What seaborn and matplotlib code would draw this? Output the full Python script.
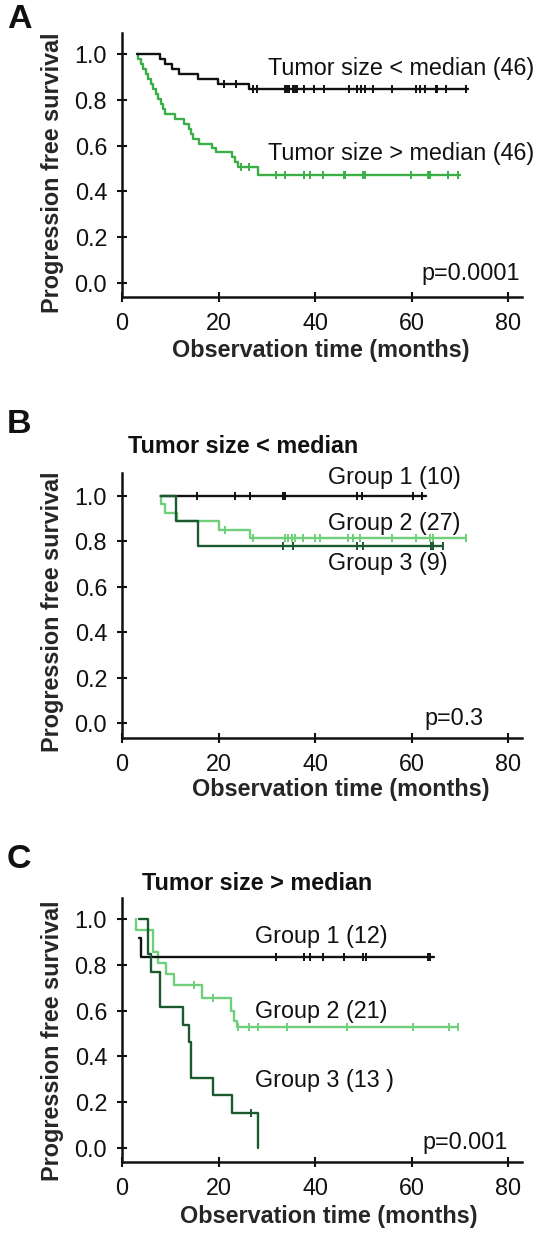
import numpy as np
import pandas as pd
import matplotlib
matplotlib.use("Agg")
import matplotlib.pyplot as plt
import seaborn as sns

# ---------------- data ----------------
# Panel A : tumor size < median (46) / > median (46)
a_small_t = [3.2, 7.9, 9.0, 10.4, 11.8, 15.8, 19.9, 26.3]
a_small_s = [1.0, 0.978, 0.957, 0.935, 0.913, 0.891, 0.870, 0.848]
a_small_cens = [21.1, 23.7, 27.2, 28.0, 33.7, 34.1, 34.5, 35.5, 35.8, 36.2, 37.6,
                39.8, 41.9, 47.0, 48.7, 49.5, 50.2, 52.0, 55.9, 60.9, 61.6, 62.7,
                64.9, 65.2, 67.0, 71.3]
a_small_end = 71.7

a_large_t = [3.2, 3.4, 3.9, 4.4, 4.9, 5.4, 6.0, 6.5, 7.0, 7.5, 8.0, 8.5, 9.0, 11.0,
             12.8, 13.8, 14.2, 14.7, 16.0, 18.7, 19.5, 22.7, 23.3, 24.0, 28.2]
a_large_s = [1.0, 0.978, 0.957, 0.935, 0.913, 0.891, 0.870, 0.848, 0.826, 0.804,
             0.783, 0.761, 0.739, 0.717, 0.696, 0.674, 0.652, 0.630, 0.609, 0.590,
             0.572, 0.550, 0.528, 0.508, 0.472]
a_large_cens = [24.7, 26.2, 31.9, 33.7, 37.6, 38.9, 41.6, 45.9, 46.2, 49.8, 50.2,
                59.9, 63.4, 63.8, 67.4, 69.5]
a_large_end = 69.9

# Panel B : tumor size < median
b_g1_t = [8.0]
b_g1_s = [1.0]
b_g1_cens = [15.5, 23.4, 26.5, 33.4, 33.7, 48.6, 49.6, 60.3, 62.0]
b_g1_end = 63.0

b_g2_t = [7.9, 8.0, 8.8, 11.3, 20.0, 26.5]
b_g2_s = [1.0, 0.963, 0.926, 0.889, 0.852, 0.815]
b_g2_cens = [21.3, 27.2, 33.7, 34.4, 35.1, 35.8, 37.5, 39.9, 41.0, 46.8, 47.9,
             49.2, 55.8, 60.9, 63.7, 64.4, 71.3]
b_g2_end = 71.3

b_g3_t = [8.0, 11.1, 15.8]
b_g3_s = [1.0, 0.889, 0.778]
b_g3_cens = [33.4, 35.5, 48.6, 49.9, 64.0, 64.4, 66.5]
b_g3_end = 66.5

# Panel C : tumor size > median
c_g1_t = [3.6, 4.0]
c_g1_s = [0.917, 0.833]
c_g1_cens = [31.9, 37.6, 38.9, 41.6, 45.9, 49.8, 50.5, 63.4, 63.8]
c_g1_end = 64.5

c_g2_t = [2.9, 3.0, 6.5, 7.4, 9.1, 10.7, 16.6, 22.5, 23.1, 23.8]
c_g2_s = [1.0, 0.952, 0.857, 0.810, 0.762, 0.714, 0.655, 0.600, 0.555, 0.527]
c_g2_cens = [15.0, 18.8, 24.0, 26.2, 28.2, 34.1, 46.6, 60.2, 67.7, 69.5]
c_g2_end = 69.5

c_g3_t = [3.6, 5.4, 6.1, 7.8, 12.6, 13.8, 14.3, 18.9, 22.7, 28.2]
c_g3_s = [1.0, 0.846, 0.769, 0.615, 0.538, 0.462, 0.308, 0.231, 0.154, 0.0]
c_g3_cens = [26.6]
c_g3_end = 28.2

x_ticks = [0, 20, 40, 60, 80]
y_ticks = [0.0, 0.2, 0.4, 0.6, 0.8, 1.0]

# ---------------- style ----------------
sns.set_style("ticks")
plt.rcParams["font.family"] = ["Liberation Sans", "DejaVu Sans"]

BLACK = "#111111"
GREEN_A = "#3aae47"
LIGHT = "#6fcf7a"
DARK = "#1b5a31"

W, H = 539, 1234
fig = plt.figure(figsize=(W / 100, H / 100), dpi=100)
AX_L, AX_R = 122, 522


def make_axes(top, bottom):
    return fig.add_axes([AX_L / W, 1 - bottom / H, (AX_R - AX_L) / W, (bottom - top) / H])


def km(ax, t, s, cens, end, color, z):
    tt = list(t) + [end]
    ss = list(s) + [s[-1]]
    df = pd.DataFrame({"t": tt, "s": ss})
    sns.lineplot(data=df, x="t", y="s", drawstyle="steps-post", estimator=None,
                 sort=False, color=color, lw=1.7, ax=ax, zorder=z)
    idx = np.searchsorted(np.asarray(t), np.asarray(cens), side="right") - 1
    cy = np.asarray(s)[idx]
    sns.scatterplot(x=cens, y=cy, marker="|", s=34, color=color, linewidth=1.4,
                    ax=ax, zorder=z + 0.5)


def style_axes(ax, ylim, xlab_pos, ylab_pos):
    ax.set_xlim(0, 82.8)
    ax.set_ylim(*ylim)
    ax.set_xticks(x_ticks)
    ax.set_yticks(y_ticks)
    ax.set_yticklabels([f"{v:.1f}" for v in y_ticks])
    for side in ["top", "right"]:
        ax.spines[side].set_visible(False)
    for side in ["left", "bottom"]:
        ax.spines[side].set_linewidth(1.8)
        ax.spines[side].set_color(BLACK)
    ax.tick_params(direction="inout", length=7.5, width=1.5, labelsize=16.8,
                   pad=7, color=BLACK, labelcolor=BLACK)
    ax.set_xlabel("Observation time (months)", fontsize=16.8, fontweight="bold")
    ax.set_ylabel("Progression free survival", fontsize=16.8, fontweight="bold")
    ax.xaxis.set_label_coords(*xlab_pos)
    ax.xaxis.label.set_va("center")
    ax.yaxis.set_label_coords(*ylab_pos)
    ax.yaxis.label.set_va("center")
    ax.set_facecolor("white")


TXT = dict(fontsize=16.8, color=BLACK, va="center")

# ---------------- Panel A ----------------
axA = make_axes(33, 297)
km(axA, a_large_t, a_large_s, a_large_cens, a_large_end, GREEN_A, 3)
km(axA, a_small_t, a_small_s, a_small_cens, a_small_end, BLACK, 4)
style_axes(axA, (-0.061, 1.092), (0.496, -0.201), (-0.173, 0.47))
axA.text(30.3, 0.939, "Tumor size < median (46)", **TXT)
axA.text(30.3, 0.567, "Tumor size > median (46)", **TXT)
axA.text(82.4, 0.042, "p=0.0001", ha="right", fontsize=16.8, color=BLACK, va="center")

# ---------------- Panel B ----------------
axB = make_axes(473, 738)
km(axB, b_g2_t, b_g2_s, b_g2_cens, b_g2_end, LIGHT, 3)
km(axB, b_g1_t, b_g1_s, b_g1_cens, b_g1_end, BLACK, 4)
km(axB, b_g3_t, b_g3_s, b_g3_cens, b_g3_end, DARK, 5)
style_axes(axB, (-0.066, 1.101), (0.548, -0.196), (-0.173, 0.475))
axB.text(42.6, 1.08, "Group 1 (10)", **TXT)
axB.text(42.6, 0.878, "Group 2 (27)", **TXT)
axB.text(42.6, 0.703, "Group 3 (9)", **TXT)
axB.text(74.9, 0.022, "p=0.3", ha="right", fontsize=16.8, color=BLACK, va="center")

# ---------------- Panel C ----------------
axC = make_axes(898, 1162)
km(axC, c_g2_t, c_g2_s, c_g2_cens, c_g2_end, LIGHT, 3)
km(axC, c_g1_t, c_g1_s, c_g1_cens, c_g1_end, BLACK, 4)
km(axC, c_g3_t, c_g3_s, c_g3_cens, c_g3_end, DARK, 5)
style_axes(axC, (-0.061, 1.092), (0.518, -0.208), (-0.173, 0.458))
axC.text(27.6, 0.924, "Group 1 (12)", **TXT)
axC.text(27.6, 0.596, "Group 2 (21)", **TXT)
axC.text(27.6, 0.296, "Group 3 (13 )", **TXT)
axC.text(79.9, 0.026, "p=0.001", ha="right", fontsize=16.8, color=BLACK, va="center")

# ---------------- panel letters and titles ----------------
for letter, base in [("A", 28), ("B", 433), ("C", 868)]:
    fig.text(6.9 / W, 1 - base / H, letter, fontsize=24.5, fontweight="bold",
             color=BLACK, ha="left", va="baseline")
fig.text(128 / W, 1 - 453 / H, "Tumor size < median", fontsize=16.8,
         fontweight="bold", color=BLACK, ha="left", va="baseline")
fig.text(141.7 / W, 1 - 890 / H, "Tumor size > median", fontsize=16.8,
         fontweight="bold", color=BLACK, ha="left", va="baseline")

fig.savefig("out.png", dpi=100, facecolor="white")
